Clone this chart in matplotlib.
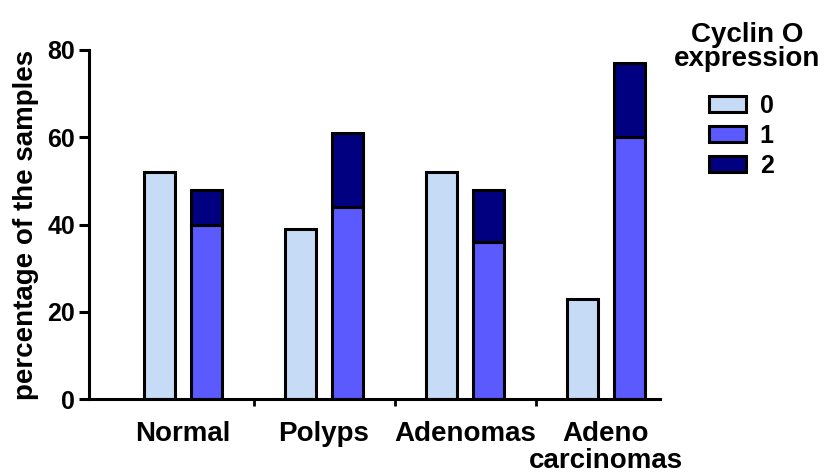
import numpy as np
import matplotlib
matplotlib.use("Agg")
import matplotlib.pyplot as plt

plt.rcParams['font.family'] = ['Liberation Sans', 'DejaVu Sans']
plt.rcParams['font.weight'] = 'bold'

# data
categories = ['Normal', 'Polyps', 'Adenomas', 'Adeno\ncarcinomas']
expr0 = [52, 39, 52, 23]
expr1 = [40, 44, 36, 60]
expr2 = [8, 17, 12, 17]
legend_labels = ['0', '1', '2']
colors = ['#C6DBF5', '#5A5AFF', '#000080']

fig = plt.figure(figsize=(8.24, 4.73), dpi=100)
ax = fig.add_axes([0.108, 0.156, 0.693, 0.7385])

x = np.arange(len(categories))
w = 0.215
off = 0.167
lw = 2.2

b0 = ax.bar(x - off, expr0, w, color=colors[0], edgecolor='black', linewidth=lw)
b1 = ax.bar(x + off, expr1, w, color=colors[1], edgecolor='black', linewidth=lw)
b2 = ax.bar(x + off, expr2, w, bottom=expr1, color=colors[2], edgecolor='black', linewidth=lw)

ax.set_xlim(-0.667, 3.383)
ax.set_ylim(0, 80)
ax.set_yticks([0, 20, 40, 60, 80])
ax.set_xticks(x)
ax.set_xticklabels(categories, fontsize=20, fontweight='bold', linespacing=1.05, va='top')
ax.set_xticks([0.5, 1.5, 2.5], minor=True)
ax.tick_params(axis='x', which='major', length=0, pad=16)
ax.tick_params(axis='x', which='minor', length=5, width=2, direction='out')
ax.tick_params(axis='y', length=7, width=lw, pad=3, labelsize=18)
for lab in ax.get_yticklabels():
    lab.set_fontweight('bold')

for s in ['top', 'right']:
    ax.spines[s].set_visible(False)
for s in ['left', 'bottom']:
    ax.spines[s].set_linewidth(lw)

ax.set_ylabel('percentage of the samples', fontsize=20, fontweight='bold', labelpad=6)

# legend title drawn separately so it can be centred and spaced like the original
fig.text(747 / 824, 1 - 22 / 473, 'Cyclin O\nexpression', ha='center', va='top',
         fontsize=20, fontweight='bold', linespacing=0.88, multialignment='center')

leg = fig.legend([b0, b1, b2], legend_labels, loc='upper left',
                 bbox_to_anchor=(709 / 824, 1 - 94 / 473),
                 frameon=False, fontsize=18, borderpad=0, borderaxespad=0,
                 handlelength=1.48, handleheight=0.64, labelspacing=0.24,
                 handletextpad=0.55)
for t in leg.get_texts():
    t.set_fontweight('bold')

fig.savefig('out.png', dpi=100)
